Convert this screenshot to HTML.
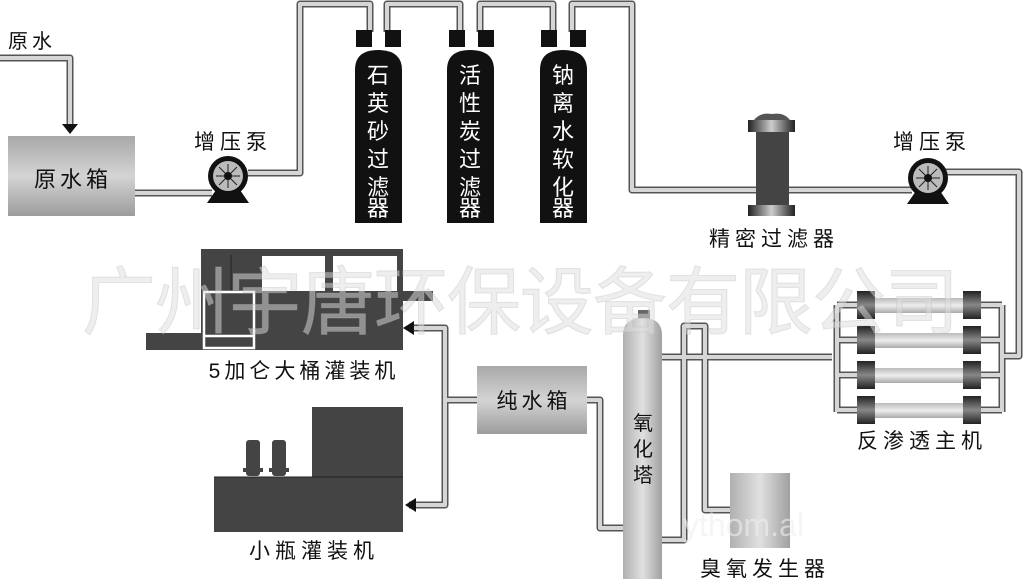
<!DOCTYPE html>
<html><head><meta charset="utf-8"><style>
html,body{margin:0;padding:0;background:#fff;}
svg{display:block;}
text{font-family:"Liberation Sans","Noto Sans CJK SC","WenQuanYi Zen Hei",sans-serif;fill:#111;}
</style></head><body>
<svg width="1024" height="579" viewBox="0 0 1024 579" xmlns="http://www.w3.org/2000/svg">
<defs>
<linearGradient id="box" x1="0" y1="0" x2="0" y2="1"><stop offset="0" stop-color="#a8a8a8"/><stop offset="0.5" stop-color="#d4d4d4"/><stop offset="1" stop-color="#9c9c9c"/></linearGradient>
<linearGradient id="tow" x1="0" y1="0" x2="1" y2="0"><stop offset="0" stop-color="#b0b0b0"/><stop offset="0.5" stop-color="#e0e0e0"/><stop offset="1" stop-color="#a0a0a0"/></linearGradient>
<linearGradient id="tube" x1="0" y1="0" x2="0" y2="1"><stop offset="0" stop-color="#bbb"/><stop offset="0.5" stop-color="#eee"/><stop offset="1" stop-color="#aaa"/></linearGradient>
<linearGradient id="cap" x1="0" y1="0" x2="0" y2="1"><stop offset="0" stop-color="#222"/><stop offset="0.5" stop-color="#888"/><stop offset="1" stop-color="#222"/></linearGradient>
<linearGradient id="fcap" x1="0" y1="0" x2="1" y2="0"><stop offset="0" stop-color="#222"/><stop offset="0.5" stop-color="#ccc"/><stop offset="1" stop-color="#222"/></linearGradient>
</defs>
<g fill="none" stroke-linejoin="round">
<g stroke="#555" stroke-width="7">
<path d="M0 58H70V124"/>
<path d="M135 193H212"/>
<path d="M248 173H300V4H370V32"/>
<path d="M387 32V4H460V32"/>
<path d="M480 32V4H553V32"/>
<path d="M572 32V4H632V190H912"/>
<path d="M945 172H1019V356H1004"/>
<path d="M837 305V412M1002 305V412M837 305H860M837 340H860M837 375H860M837 410H860M975 305H1002M975 340H1002M975 375H1002M975 410H1002"/>
<path d="M832 357H662"/>
<path d="M662 540H684V326H705V510H730"/>
<path d="M587 400H600V528H623"/>
<path d="M477 400H445M409 328H445V505H409"/>
</g>
<g stroke="#d6d6d6" stroke-width="4">
<path d="M0 58H70V124"/>
<path d="M135 193H212"/>
<path d="M248 173H300V4H370V32"/>
<path d="M387 32V4H460V32"/>
<path d="M480 32V4H553V32"/>
<path d="M572 32V4H632V190H912"/>
<path d="M945 172H1019V356H1004"/>
<path d="M837 305V412M1002 305V412M837 305H860M837 340H860M837 375H860M837 410H860M975 305H1002M975 340H1002M975 375H1002M975 410H1002"/>
<path d="M832 357H662"/>
<path d="M662 540H684V326H705V510H730"/>
<path d="M587 400H600V528H623"/>
<path d="M477 400H445M409 328H445V505H409"/>
</g>
</g>
<polygon points="62,124 78,124 70,134" fill="#111"/>
<polygon points="403,328 414,321 414,335" fill="#111"/>
<polygon points="405,505 416,498 416,512" fill="#111"/>
<!-- raw tank -->
<rect x="8" y="136" width="127" height="80" fill="url(#box)"/>
<text x="73" y="187" font-size="22" letter-spacing="4" text-anchor="middle">原水箱</text>
<text x="8" y="48" font-size="20" letter-spacing="4">原水</text>
<!-- pump 1 -->
<polygon points="207,203 249,203 240,190 216,190" fill="#111"/>
<circle cx="228" cy="176" r="20" fill="#111"/>
<circle cx="228" cy="176" r="15" fill="#bbb"/>
<g stroke="#222" stroke-width="1"><path d="M216 176H240M228 164V188M219 167L237 185M237 167L219 185"/></g>
<circle cx="228" cy="176" r="4" fill="#111"/>
<text x="233" y="149" font-size="21" letter-spacing="5" text-anchor="middle">增压泵</text>
<!-- pump 2 -->
<polygon points="907,204 949,204 940,191 916,191" fill="#111"/>
<circle cx="928" cy="178" r="20" fill="#111"/>
<circle cx="928" cy="178" r="15" fill="#bbb"/>
<g stroke="#222" stroke-width="1"><path d="M916 178H940M928 166V190M919 169L937 187M937 169L919 187"/></g>
<circle cx="928" cy="178" r="4" fill="#111"/>
<text x="932" y="149" font-size="21" letter-spacing="5" text-anchor="middle">增压泵</text>
<!-- filter tanks -->
<g fill="#111">
<rect x="356" y="30" width="16" height="17"/><rect x="385" y="30" width="16" height="17"/>
<path d="M355 223V70Q355 50 378 50Q402 50 402 70V223Z"/>
<rect x="449" y="30" width="16" height="17"/><rect x="478" y="30" width="16" height="17"/>
<path d="M447 223V70Q447 50 470 50Q494 50 494 70V223Z"/>
<rect x="541" y="30" width="16" height="17"/><rect x="570" y="30" width="16" height="17"/>
<path d="M540 223V70Q540 50 563 50Q587 50 587 70V223Z"/>
</g>
<g font-size="22" text-anchor="middle">
<text x="378" y="83" style="fill:#fff">石</text><text x="378" y="111" style="fill:#fff">英</text><text x="378" y="139" style="fill:#fff">砂</text><text x="378" y="167" style="fill:#fff">过</text><text x="378" y="195" style="fill:#fff">滤</text><text x="378" y="216" style="fill:#fff">器</text>
<text x="470" y="83" style="fill:#fff">活</text><text x="470" y="111" style="fill:#fff">性</text><text x="470" y="139" style="fill:#fff">炭</text><text x="470" y="167" style="fill:#fff">过</text><text x="470" y="195" style="fill:#fff">滤</text><text x="470" y="216" style="fill:#fff">器</text>
<text x="563" y="83" style="fill:#fff">钠</text><text x="563" y="111" style="fill:#fff">离</text><text x="563" y="139" style="fill:#fff">水</text><text x="563" y="167" style="fill:#fff">软</text><text x="563" y="195" style="fill:#fff">化</text><text x="563" y="216" style="fill:#fff">器</text>
</g>
<!-- precision filter -->
<rect x="756" y="128" width="33" height="78" fill="#444"/>
<path d="M748 120H795V132H748Z" fill="url(#fcap)"/>
<path d="M754 120Q760 112 772 114Q784 112 790 120Z" fill="#555"/>
<path d="M748 205H795V216H748Z" fill="url(#fcap)"/>
<text x="774" y="246" font-size="21" letter-spacing="5" text-anchor="middle">精密过滤器</text>
<!-- RO -->
<g>
<rect x="860" y="298" width="110" height="15" fill="url(#tube)"/>
<rect x="860" y="333" width="110" height="15" fill="url(#tube)"/>
<rect x="860" y="368" width="110" height="15" fill="url(#tube)"/>
<rect x="860" y="403" width="110" height="15" fill="url(#tube)"/>
<g fill="url(#cap)">
<rect x="857" y="291" width="18" height="28"/><rect x="963" y="291" width="18" height="28"/>
<rect x="857" y="326" width="18" height="28"/><rect x="963" y="326" width="18" height="28"/>
<rect x="857" y="361" width="18" height="28"/><rect x="963" y="361" width="18" height="28"/>
<rect x="857" y="396" width="18" height="28"/><rect x="963" y="396" width="18" height="28"/>
</g>
</g>
<text x="922" y="448" font-size="21" letter-spacing="5" text-anchor="middle">反渗透主机</text>
<!-- ozone tower -->
<rect x="638" y="310" width="12" height="12" fill="#666"/>
<path d="M623 579V335Q623 318 643 318Q662 318 662 335V579Z" fill="url(#tow)"/>
<g font-size="20" text-anchor="middle"><text x="643" y="430">氧</text><text x="643" y="456">化</text><text x="643" y="482">塔</text></g>
<rect x="730" y="473" width="60" height="75" fill="url(#tow)"/>
<text x="765" y="576" font-size="21" letter-spacing="5" text-anchor="middle">臭氧发生器</text>
<!-- pure water -->
<rect x="477" y="366" width="110" height="68" fill="url(#box)"/>
<text x="534" y="408" font-size="21" letter-spacing="4" text-anchor="middle">纯水箱</text>
<!-- 5 gallon machine -->
<g fill="#444">
<rect x="201" y="249" width="202" height="101"/>
<rect x="201" y="291" width="232" height="10"/>
<rect x="146" y="333" width="100" height="17"/>
</g>
<rect x="262" y="256" width="63" height="35" fill="#fff"/>
<rect x="333" y="256" width="64" height="35" fill="#fff"/>
<path d="M231 255V291" stroke="#222" stroke-width="1"/>
<rect x="204" y="292" width="50" height="56" fill="none" stroke="#fff" stroke-width="2.5"/>
<path d="M204 336H254" stroke="#fff" stroke-width="2.5"/>
<text x="304" y="378" font-size="21" letter-spacing="4" text-anchor="middle">5加仑大桶灌装机</text>
<!-- small bottle machine -->
<g fill="#444">
<rect x="312" y="407" width="91" height="71"/>
<rect x="214" y="477" width="189" height="55"/>
<rect x="246" y="440" width="14" height="36" rx="3"/>
<rect x="272" y="440" width="14" height="36" rx="3"/>
<rect x="243" y="468" width="20" height="4"/><rect x="269" y="468" width="20" height="4"/>
</g>
<path d="M214 477H403" stroke="#222"/>
<text x="314" y="558" font-size="21" letter-spacing="5" text-anchor="middle">小瓶灌装机</text>
<!-- watermark -->
<text x="82" y="328" font-size="74" letter-spacing="-1" style="fill:#ddd;fill-opacity:0.5;stroke:#bbb;stroke-opacity:0.35;stroke-width:1">广州宇唐环保设备有限公司</text>
<text x="683" y="536" font-size="32" style="fill:#eee;fill-opacity:0.6">ythom.al</text>
</svg>
</body></html>
